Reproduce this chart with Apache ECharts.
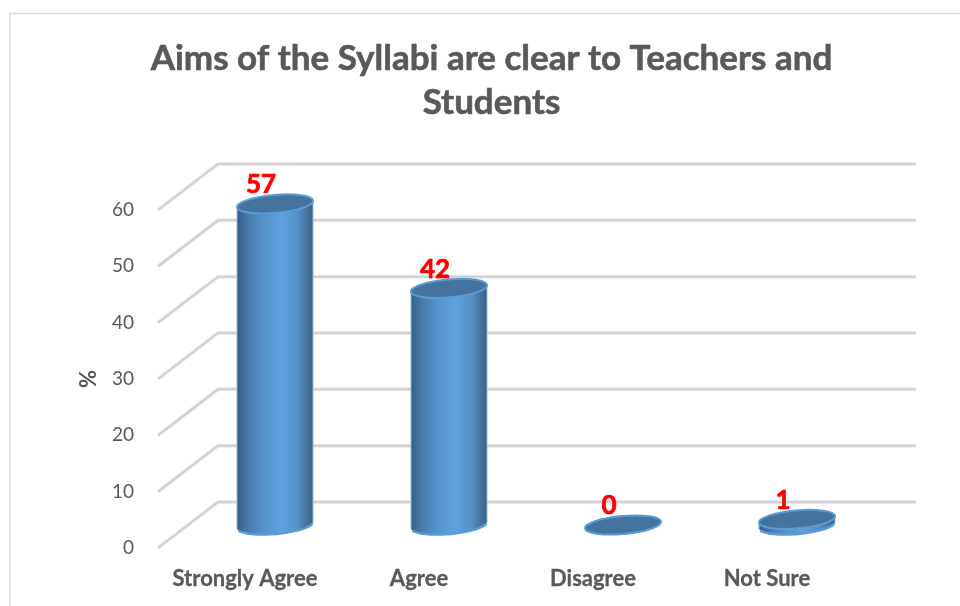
<!DOCTYPE html>
<html>
<head>
<meta charset="utf-8">
<style>html,body{margin:0;padding:0;background:#fff}#c{width:960px;height:606px}</style>
<script src="https://cdn.jsdelivr.net/npm/echarts@6/dist/echarts.min.js"></script>
</head>
<body>
<div id="c"></div>
<script>
var titleText = 'Aims of the Syllabi are clear to Teachers and\nStudents';
var categories = ['Strongly Agree', 'Agree', 'Disagree', 'Not Sure'];
var percentValues = [57, 42, 0, 1];
var axisTicks = [0, 10, 20, 30, 40, 50, 60];
var yAxisName = '%';

var FONT = 'Lato, "Open Sans", sans-serif';
var DEPTH_X = 60, DEPTH_Y = -46;   // back wall offset from the front plane
var WALL_END = 916;
var TILT = 5 * Math.PI / 180, RX = 38.2, RY = 9;

function ellipsePt(cx, cy, t) {
  var x = RX * Math.cos(t), y = RY * Math.sin(t);
  return [cx + x * Math.cos(TILT) + y * Math.sin(TILT),
          cy - x * Math.sin(TILT) + y * Math.cos(TILT)];
}
function arc(cx, cy, from, to) {
  var pts = [], n = 40;
  for (var i = 0; i <= n; i++) pts.push(ellipsePt(cx, cy, from + (to - from) * i / n));
  return pts;
}

function renderGrid(params, api) {
  var p = api.coord([0, api.value(0)]);
  var x0 = params.coordSys.x, y = p[1];
  var pts = [[x0, y], [x0 + DEPTH_X, y + DEPTH_Y], [WALL_END, y + DEPTH_Y]];
  return {
    type: 'group',
    children: [
      { type: 'polyline', shape: { points: pts }, style: { fill: 'none', stroke: '#e8e8e8', lineWidth: 4 } },
      { type: 'polyline', shape: { points: pts }, style: { fill: 'none', stroke: '#cbcbcb', lineWidth: 1.5 } }
    ]
  };
}

function renderCylinder(params, api) {
  var v = api.value(1);
  var base = api.coord([api.value(0), 0]);
  var top = api.coord([api.value(0), v]);
  var cx = base[0] + DEPTH_X / 2;
  var by = base[1] + DEPTH_Y / 2;
  var ty = top[1] + DEPTH_Y / 2;
  var tExt = Math.atan2(-RY * Math.sin(TILT), RX * Math.cos(TILT));
  var lower = arc(cx, by, Math.PI + tExt, tExt);
  var upper = arc(cx, ty, tExt, Math.PI + tExt);
  var children = [];
  if (v > 0) {
    children.push({
      type: 'polygon',
      shape: { points: lower.concat(upper) },
      style: {
        fill: { type: 'linear', x: 0, y: 0, x2: 1, y2: 0, colorStops: [
          { offset: 0, color: '#345f86' },
          { offset: 0.14, color: '#4679a8' },
          { offset: 0.32, color: '#5290c8' },
          { offset: 0.58, color: '#5ea2e0' },
          { offset: 0.8, color: '#5290c6' },
          { offset: 0.93, color: '#446f98' },
          { offset: 1, color: '#365f85' }
        ] },
        stroke: '#a9bccd', lineWidth: 1
      }
    });
    children.push({
      type: 'polyline',
      shape: { points: lower.slice(3, -3) },
      style: { fill: 'none', stroke: '#5b9bd5', lineWidth: 2.5 }
    });
  }
  children.push({
    type: 'ellipse',
    shape: { cx: 0, cy: 0, rx: RX, ry: RY },
    x: cx, y: ty, rotation: TILT,
    style: { fill: '#44749e', stroke: '#5b9bd5', lineWidth: 2 }
  });
  children.push({
    type: 'text',
    x: cx - 14, y: ty - 19,
    style: {
      text: String(v), fill: '#ff0000', stroke: '#ff0000', lineWidth: 0.7,
      font: 'bold 26px ' + FONT, align: 'center', verticalAlign: 'middle'
    }
  });
  return { type: 'group', children: children };
}

var chart = echarts.init(document.getElementById('c'), null, { renderer: 'canvas' });
chart.setOption({
  animation: false,
  backgroundColor: '#ffffff',
  title: {
    text: titleText, left: 486.5, top: 32, textAlign: 'center',
    textStyle: { fontFamily: FONT, fontWeight: 'bold', fontSize: 35, lineHeight: 44, color: '#595959',
      textBorderColor: '#595959', textBorderWidth: 0.6 }
  },
  graphic: [
    { type: 'polyline', silent: true, shape: { points: [[10, 606], [10, 13.5], [960, 13.5]] },
      style: { fill: 'none', stroke: '#dcdcdc', lineWidth: 1.5 } }
  ],
  grid: { left: 158, top: 210, width: 696, height: 338 },
  xAxis: {
    type: 'category', data: categories,
    axisLine: { show: false }, axisTick: { show: false },
    axisLabel: { margin: 20, interval: 0, color: '#595959', fontFamily: FONT, fontWeight: 'bold', fontSize: 22,
      textBorderColor: '#595959', textBorderWidth: 0.3 }
  },
  yAxis: {
    type: 'value', min: 0, max: 60, interval: 10,
    name: yAxisName, nameLocation: 'middle', nameRotate: 90, nameGap: 58,
    nameTextStyle: { color: '#595959', fontFamily: FONT, fontWeight: 'bold', fontSize: 22 },
    axisLine: { show: false }, axisTick: { show: false }, splitLine: { show: false },
    axisLabel: { margin: 24, color: '#595959', fontFamily: FONT, fontSize: 19, padding: [6, 0, 0, 0] }
  },
  series: [
    { type: 'custom', coordinateSystem: 'cartesian2d', silent: true, z: 1,
      data: axisTicks.map(function (t) { return [t]; }), encode: { y: 0 }, renderItem: renderGrid },
    { type: 'custom', coordinateSystem: 'cartesian2d', silent: true, z: 2,
      data: percentValues.map(function (v, i) { return [i, v]; }), encode: { x: 0, y: 1 }, renderItem: renderCylinder }
  ]
});
</script>
</body>
</html>
